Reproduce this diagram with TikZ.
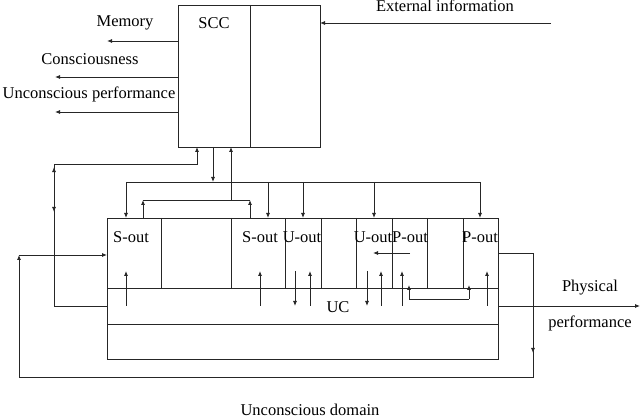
\documentclass[tikz,border=0pt]{standalone}
\usepackage{fontspec}
\setmainfont{Liberation Serif}
\usetikzlibrary{arrows.meta,decorations.markings}
\begin{document}
\begin{tikzpicture}[x=1pt,y=-1pt,
  ln/.style={draw=black!85,line width=0.8pt},
  ar/.style={ln,-{Latex[length=5pt,width=4pt]}},
  lab/.style={font=\fontsize{16.5}{16.5}\selectfont,inner sep=0pt},
  midup/.style={postaction={decorate},decoration={markings,mark=at position #1 with {\arrow{Latex[length=5pt,width=4pt]}}}}]
\useasboundingbox (0,0) rectangle (640,419);
% SCC
\draw[ln] (178,5) rectangle (320,147);
\draw[ln] (250,5) -- (250,147);
\node[lab] (scc) at (214,23) {SCC};
% big box
\draw[ln] (107,218) rectangle (498,359);
\draw[ln] (107,288) -- (498,288);
\draw[ln] (107,324) -- (498,324);
\foreach \x in {161,231,285,321,356,392,427,463} \draw[ln] (\x,218) -- (\x,288);
\foreach \x/\t in {131/S-out,260/S-out,302/U-out,373/U-out,410/P-out,480/P-out}
  \node[lab] at (\x,237) {\t};
\node[lab] (uc) at (338,307) {UC};
% left outputs
\draw[ar] (178,41) -- (107,41);
\draw[ar] (178,77) -- (55,77);
\draw[ar] (178,112) -- (55,112);
\node[lab] at (125,23) {Memory};
\node[lab] at (90,59) {Consciousness};
\node[lab] at (89,94) {Unconscious performance};
% external
\draw[ar] (551,23) -- (320,23);
\node[lab] at (445,6) {External information};
% left loop to SCC
\draw[ar] (107,306) -| (54,164) -| (197,147);
\draw[ln,midup=0.999] (54,212) -- (54,167);
\draw[ln,midup=0.999] (54,167) -- (54,212);
% down bus
\draw[ar] (213,147) -- (213,182);
\draw[ln] (126,182) -- (480,182);
\foreach \x in {126,268,303,374,480} \draw[ar] (\x,182) -- (\x,218);
% up bus
\draw[ar] (143,218) -- (143,200);
\draw[ar] (250,218) -- (250,200);
\draw[ln] (143,200) -- (250,200);
\draw[ar] (231,200) -- (231,147);
% inner arrows
\foreach \x in {126,260,310,381,402,487} \draw[ar] (\x,306) -- (\x,271);
\foreach \x in {295,367} \draw[ar] (\x,271) -- (\x,306);
\draw[ar] (410,253) -- (373,253);
\draw[ar] (409,299) -- (409,285);
\draw[ar] (469,299) -- (469,285);
\draw[ln] (409,299) -- (469,299);
% right loop
\draw[ar] (498,253) -- (533,253) -- (533,353);
\draw[ar] (533,350) |- (19,377) -- (19,255);
\draw[ar] (19,255) -- (107,255);
% physical
\draw[ar] (498,306) -- (640,306);
\node[lab] at (590,288) {Physical};
\node[lab] at (590,323) {performance};
\node[lab] at (310,410) {Unconscious domain};
\end{tikzpicture}
\end{document}
